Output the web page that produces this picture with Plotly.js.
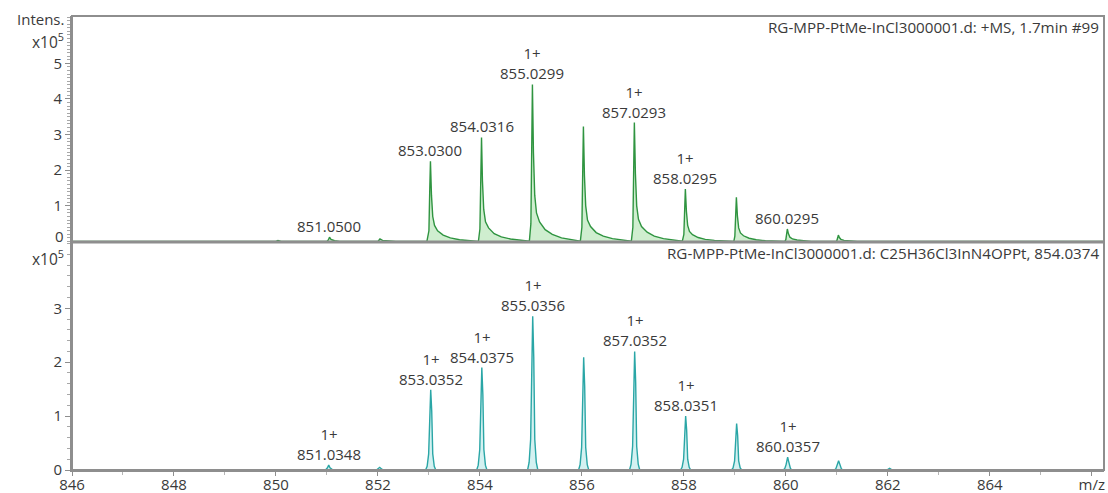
<!DOCTYPE html>
<html>
<head>
<meta charset="utf-8">
<script src="https://cdn.plot.ly/plotly-3.0.1.min.js"></script>
<style>
  html, body { margin: 0; padding: 0; background: #ffffff; }
  #chart { width: 1108px; height: 493px; }
</style>
</head>
<body>
<div id="chart"></div>
<script>
// Measured profile spectrum (+MS, 1.7 min #99), intensity in units of 1e5
const measMz = [
  846.0, 849.0, 850.0, 850.04, 850.1, 851.0, 851.03, 851.05, 851.08, 851.15, 851.25,
  852.0, 852.04, 852.09, 852.2, 852.35,
  852.96, 853.0, 853.015, 853.03, 853.05, 853.075, 853.11, 853.17, 853.28, 853.42, 853.6, 853.85,
  853.97, 854.0, 854.018, 854.0316, 854.05, 854.075, 854.11, 854.17, 854.28, 854.42, 854.6, 854.85,
  854.97, 855.0, 855.017, 855.0299, 855.05, 855.075, 855.11, 855.17, 855.28, 855.42, 855.6, 855.85,
  855.97, 856.0, 856.016, 856.03, 856.05, 856.075, 856.11, 856.17, 856.28, 856.42, 856.6, 856.85,
  856.97, 857.0, 857.016, 857.0293, 857.05, 857.075, 857.11, 857.17, 857.28, 857.42, 857.6, 857.85,
  857.97, 858.0, 858.016, 858.0295, 858.05, 858.075, 858.11, 858.17, 858.28, 858.42, 858.6, 858.85,
  858.98, 859.0, 859.016, 859.03, 859.05, 859.075, 859.11, 859.17, 859.28, 859.42, 859.6, 859.85,
  859.98, 860.0, 860.016, 860.0295, 860.05, 860.08, 860.13, 860.22, 860.35, 860.5,
  860.98, 861.0, 861.018, 861.03, 861.05, 861.08, 861.14, 861.25, 861.4, 866.3
];
const measInt = [
  0, 0, 0, 0.03, 0, 0, 0.05, 0.12, 0.06, 0.02, 0,
  0, 0.07, 0.03, 0.01, 0,
  0, 0.3, 1.35, 2.25, 1.3, 0.7, 0.45, 0.3, 0.18, 0.1, 0.05, 0.02,
  0, 0.35, 1.75, 2.92, 1.7, 0.9, 0.55, 0.38, 0.22, 0.13, 0.07, 0.03,
  0.01, 0.5, 2.6, 4.41, 2.5, 1.3, 0.8, 0.55, 0.33, 0.2, 0.1, 0.04,
  0.01, 0.4, 1.9, 3.23, 1.85, 1.0, 0.6, 0.42, 0.25, 0.15, 0.08, 0.03,
  0.01, 0.4, 2.0, 3.34, 1.9, 1.0, 0.62, 0.42, 0.26, 0.15, 0.08, 0.03,
  0.01, 0.2, 0.9, 1.47, 0.85, 0.45, 0.28, 0.19, 0.11, 0.06, 0.03, 0.01,
  0, 0.15, 0.75, 1.24, 0.72, 0.38, 0.24, 0.16, 0.09, 0.05, 0.02, 0,
  0, 0.05, 0.2, 0.35, 0.22, 0.12, 0.07, 0.04, 0.02, 0,
  0, 0.02, 0.11, 0.18, 0.11, 0.06, 0.03, 0.01, 0, 0
];

// Simulated isotope pattern for C25H36Cl3InN4OPPt, intensity in units of 1e5
const simMz = [
  846.0, 850.95, 850.98, 851.01, 851.0348, 851.06, 851.09, 851.12,
  851.97, 852.0, 852.035, 852.07, 852.1,
  852.935, 852.965, 852.995, 853.015, 853.0352, 853.055, 853.075, 853.105, 853.135,
  853.937, 853.967, 853.997, 854.017, 854.0375, 854.058, 854.078, 854.108, 854.138,
  854.935, 854.965, 854.995, 855.015, 855.0356, 855.056, 855.076, 855.106, 855.136,
  855.935, 855.965, 855.995, 856.015, 856.035, 856.055, 856.075, 856.105, 856.135,
  856.935, 856.965, 856.995, 857.015, 857.0352, 857.055, 857.075, 857.105, 857.135,
  857.935, 857.965, 857.995, 858.015, 858.0351, 858.055, 858.075, 858.105, 858.135,
  858.935, 858.965, 858.995, 859.015, 859.035, 859.055, 859.075, 859.105, 859.135,
  859.95, 859.98, 860.005, 860.02, 860.0357, 860.05, 860.065, 860.09, 860.12,
  860.95, 860.98, 861.005, 861.02, 861.035, 861.05, 861.065, 861.09, 861.12,
  861.98, 862.035, 862.09, 866.3
];
const simInt = [
  0, 0, 0.01, 0.04, 0.09, 0.04, 0.01, 0,
  0, 0.02, 0.05, 0.02, 0,
  0, 0.07, 0.3, 1.1, 1.49, 1.1, 0.3, 0.07, 0,
  0, 0.09, 0.38, 1.4, 1.9, 1.4, 0.38, 0.09, 0,
  0, 0.14, 0.57, 2.1, 2.85, 2.1, 0.57, 0.14, 0,
  0, 0.1, 0.42, 1.55, 2.09, 1.55, 0.42, 0.1, 0,
  0, 0.11, 0.44, 1.63, 2.2, 1.63, 0.44, 0.11, 0,
  0, 0.05, 0.2, 0.74, 1.0, 0.74, 0.2, 0.05, 0,
  0, 0.04, 0.17, 0.64, 0.86, 0.64, 0.17, 0.04, 0,
  0, 0.03, 0.1, 0.18, 0.24, 0.18, 0.1, 0.03, 0,
  0, 0.02, 0.07, 0.13, 0.17, 0.13, 0.07, 0.02, 0,
  0, 0.03, 0, 0
];

// Peak labels (m/z of the apex and charge state, "" when not assigned)
const measLabelMz = [851.05, 853.03, 854.0316, 855.0299, 857.0293, 858.0295, 860.0295];
const measLabelText = ["851.0500", "853.0300", "854.0316", "855.0299", "857.0293", "858.0295", "860.0295"];
const measLabelCharge = ["", "", "", "1+", "1+", "1+", ""];

const simLabelMz = [851.0348, 853.0352, 854.0375, 855.0356, 857.0352, 858.0351, 860.0357];
const simLabelText = ["851.0348", "853.0352", "854.0375", "855.0356", "857.0352", "858.0351", "860.0357"];
const simLabelCharge = ["1+", "1+", "1+", "1+", "1+", "1+", "1+"];

const xTickVals = [846, 848, 850, 852, 854, 856, 858, 860, 862, 864, 866];
const xTickText = ["846", "848", "850", "852", "854", "856", "858", "860", "862", "864", "m/z"];
const measYTicks = [1, 2, 3, 4, 5];
const simYTicks = [0, 1, 2, 3];

const measTitle = "RG-MPP-PtMe-InCl3000001.d: +MS, 1.7min #99";
const simTitle = "RG-MPP-PtMe-InCl3000001.d: C25H36Cl3InN4OPPt, 854.0374";

// ---- drawing ----
const FONT = "Open Sans, Noto Sans, sans-serif";
const TXT = "#3a3a3a";
const FRAME = "#8e8e8e";
const SPLIT = 0.5022;   // panel boundary in paper units

function steps(from, to, step) {
  const out = [];
  for (let v = from; v <= to + 1e-9; v += step) out.push(Math.round(v * 1000) / 1000);
  return out;
}

// apex intensity for a labelled m/z, taken from the trace arrays
function apexAt(mzArr, intArr, mz) {
  let best = 0, bestD = Infinity;
  for (let i = 0; i < mzArr.length; i++) {
    const d = Math.abs(mzArr[i] - mz);
    if (d < bestD) { bestD = d; best = intArr[i]; }
  }
  return best;
}

const traces = [
  {
    x: measMz, y: measInt, xaxis: "x", yaxis: "y",
    type: "scatter", mode: "lines",
    line: { color: "#2f9440", width: 1.4 },
    fill: "tozeroy", fillcolor: "rgba(160,222,160,0.5)",
    hoverinfo: "skip"
  },
  {
    x: simMz, y: simInt, xaxis: "x", yaxis: "y2",
    type: "scatter", mode: "lines",
    line: { color: "#2aa6a6", width: 1.4 },
    fill: "tozeroy", fillcolor: "rgba(170,228,228,0.5)",
    hoverinfo: "skip"
  }
];

const annotations = [];
function addPeakLabels(mzs, texts, charges, mzArr, intArr, yref) {
  for (let i = 0; i < mzs.length; i++) {
    const t = charges[i] ? charges[i] + "<br>" + texts[i] : texts[i];
    annotations.push({
      x: mzs[i], y: apexAt(mzArr, intArr, mzs[i]), xref: "x", yref: yref,
      text: t, showarrow: false, xanchor: "center", yanchor: "bottom",
      yshift: -1, font: { family: FONT, size: 15, color: TXT }
    });
  }
}
addPeakLabels(measLabelMz, measLabelText, measLabelCharge, measMz, measInt, "y");
addPeakLabels(simLabelMz, simLabelText, simLabelCharge, simMz, simInt, "y2");

function paperY(px) { return (470 - px) / 454; }
function sideLabel(text, py, size) {
  return { x: 0, y: paperY(py), xref: "paper", yref: "paper", xanchor: "right", yanchor: "middle",
           xshift: -7, text: text, showarrow: false, borderpad: 0,
           font: { family: FONT, size: size, color: TXT } };
}

annotations.push(
  { x: 1, y: paperY(27), xref: "paper", yref: "paper", xanchor: "right", yanchor: "middle",
    xshift: -3, text: measTitle, showarrow: false, font: { family: FONT, size: 15.2, color: TXT } },
  { x: 1, y: paperY(253), xref: "paper", yref: "paper", xanchor: "right", yanchor: "middle",
    xshift: -3, text: simTitle, showarrow: false, font: { family: FONT, size: 15.2, color: TXT } },
  sideLabel("Intens.", 19, 15),
  sideLabel("x10<sup>5</sup>", 41, 15.5),
  sideLabel("x10<sup>5</sup>", 258, 15.5),
  // zero of the upper panel sits on the shared boundary; its label is lifted clear of it
  sideLabel("0", 236, 15)
);

const yCommon = {
  showline: true, linecolor: FRAME, linewidth: 2,
  showgrid: false, zeroline: false,
  ticks: "outside", ticklen: 5, tickcolor: FRAME, tickwidth: 1,
  tickfont: { family: FONT, size: 15, color: TXT },
  tickmode: "array", fixedrange: true
};

const layout = {
  width: 1108, height: 493,
  margin: { l: 72, r: 4, t: 16, b: 23, pad: 0 },
  paper_bgcolor: "#ffffff", plot_bgcolor: "#ffffff",
  showlegend: false,
  xaxis: {
    range: [846, 866.24], anchor: "y2",
    showline: true, linecolor: FRAME, linewidth: 2,
    showgrid: false, zeroline: false,
    ticks: "outside", ticklen: 4, tickcolor: FRAME, tickwidth: 1,
    ticklabelstandoff: -4,
    tickmode: "array", tickvals: xTickVals, ticktext: xTickText,
    tickfont: { family: FONT, size: 15, color: TXT },
    minor: { tickmode: "array", tickvals: steps(847, 865, 2), ticks: "outside",
             ticklen: 3, tickcolor: "#b5b5b5", showgrid: false }
  },
  yaxis: Object.assign({}, yCommon, {
    domain: [SPLIT, 1], range: [-0.015, 6.33], anchor: "x",
    tickvals: measYTicks, ticktext: measYTicks.map(String),
    minor: { tickmode: "array", tickvals: steps(0, 6.3, 0.1), ticks: "outside",
             ticklen: 3, tickcolor: "#a8a8a8", showgrid: false }
  }),
  yaxis2: Object.assign({}, yCommon, {
    domain: [0, SPLIT], range: [0, 4.23], anchor: "x",
    tickvals: simYTicks, ticktext: simYTicks.map(String),
    minor: { tickmode: "array", tickvals: steps(0, 4.2, 0.2), ticks: "outside",
             ticklen: 3, tickcolor: "#a8a8a8", showgrid: false }
  }),
  shapes: [
    { type: "rect", xref: "paper", yref: "paper", x0: 0, x1: 1, y0: 0, y1: 1,
      line: { color: FRAME, width: 2 }, fillcolor: "rgba(0,0,0,0)", layer: "above" },
    { type: "line", xref: "paper", yref: "paper", x0: 0, x1: 1, y0: SPLIT, y1: SPLIT,
      line: { color: FRAME, width: 3 }, layer: "above" }
  ],
  annotations: annotations
};

Plotly.newPlot("chart", traces, layout, { displayModeBar: false, staticPlot: true });
</script>
</body>
</html>
